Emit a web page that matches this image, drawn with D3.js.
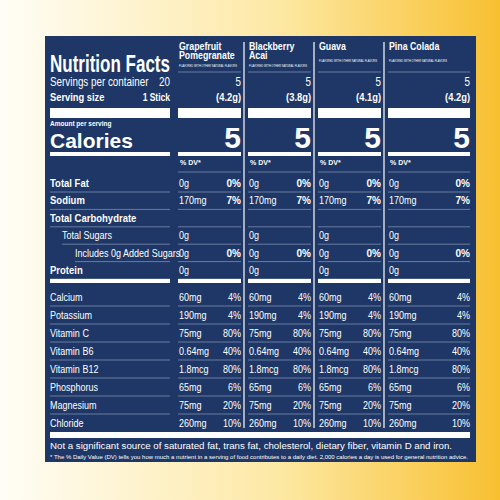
<!DOCTYPE html><html><head><meta charset="utf-8"><script src="https://cdn.jsdelivr.net/npm/d3@7"></script>
<style>body{margin:0}svg{display:block}</style></head><body><script>
const flavors=[["Grapefruit","Pomegranate"],["Blackberry","Acai"],["Guava"],["Pina Colada"]];
const servings=["5","5","5","5"];
const weights=["(4.2g)","(3.8g)","(4.1g)","(4.2g)"];
const calories=["5","5","5","5"];
const nutrients=["Total Fat","Sodium","Total Carbohydrate","Total Sugars","Includes 0g Added Sugars","Protein"];
const nutAmt=["0g","170mg","","0g","0g","0g"];
const nutDV=["0%","7%","","","0%",""];
const minerals=["Calcium","Potassium","Vitamin C","Vitamin B6","Vitamin B12","Phosphorus","Magnesium","Chloride"];
const minAmt=["60mg","190mg","75mg","0.64mg","1.8mcg","65mg","75mg","260mg"];
const minDV=["4%","4%","80%","40%","80%","6%","20%","10%"];
const W=500,H=500,navy="#1e3766",F="'Liberation Sans',Arial,sans-serif";
const svg=d3.select("body").append("svg").attr("width",W).attr("height",H);
const g0=svg.append("defs").append("linearGradient").attr("id","bg").attr("x1","0").attr("x2","1");
g0.append("stop").attr("offset","0").attr("stop-color","#fffdf6");
g0.append("stop").attr("offset","0.55").attr("stop-color","#fde9a6");
g0.append("stop").attr("offset","1").attr("stop-color","#f8c030");
svg.append("rect").attr("width",W).attr("height",H).attr("fill","url(#bg)");
svg.append("rect").attr("x",45).attr("y",36).attr("width",431).attr("height",426).attr("fill",navy);
const xs=d3.scaleLinear().domain([0,1]).range([178,248]);
const colW=i=>i==3?82:63;
const t=(s,xx,yy,o={})=>{const e=svg.append("text").attr("x",xx).attr("y",yy).text(s).attr("fill","#fff")
 .attr("font-family",F).attr("font-size",o.s||11).attr("font-weight",o.b?"bold":"normal").attr("text-anchor",o.a||"start");
 const c=o.c||(o.b?1:0.82);
 if(o.len){e.attr("textLength",o.len).attr("lengthAdjust","spacingAndGlyphs");}
 else if(c!=1)e.attr("transform",`translate(${xx},0) scale(${c},1) translate(${-xx},0)`);
 return e;};
const wbar=(x1,x2,y,h)=>svg.append("rect").attr("x",x1).attr("y",y).attr("width",x2-x1).attr("height",h).attr("fill","#fff");
const hl=(x1,x2,y)=>svg.append("line").attr("x1",x1).attr("x2",x2).attr("y1",y).attr("y2",y).attr("stroke","#8d9bb8").attr("stroke-width",0.7);
const L1=50,L2=170;
[1,2,3].forEach(i=>svg.append("line").attr("x1",xs(i)-4).attr("x2",xs(i)-4).attr("y1",42).attr("y2",428).attr("stroke","#fff").attr("stroke-width",1.2));
t("Nutrition Facts",L1,72,{s:24,b:true,len:120});
t("Servings per container",L1,86,{s:12});t("20",L2,86,{s:12,a:"end"});
t("Serving size",L1,101,{s:11,b:true,c:0.85});t("1 Stick",L2,101,{s:10,b:true,a:"end",c:0.85});
wbar(L1,L2,108,10);t("Amount per serving",L1,126,{s:6.5,b:true});
t("Calories",L1,148,{s:21,b:true});wbar(L1,L2,152,4);
const yr=d3.scalePoint().domain(nutrients).range([183,270]);
nutrients.forEach((n,i)=>{const sub=i==3||i==4;const ind=i==3?12:i==4?25:0;
 t(n,L1+ind,yr(n)+4,{s:sub?11:10,b:!sub,c:sub?0.82:0.95});hl(L1+ind,L2,yr(n)+9);});
wbar(L1,L2,279,4);
const ym=d3.scalePoint().domain(minerals).range([297,423]);
minerals.forEach((n,i)=>{t(n,L1,ym(n)+4,{s:11});if(i<7)hl(L1,L2,ym(n)+9);});
flavors.forEach((f,i)=>{const x0=xs(i),x1=x0+colW(i);
 f.forEach((l,k)=>t(l,x0+1,50+k*9,{s:11,b:true,c:0.8}));
 t("FLAVORED WITH OTHER NATURAL FLAVORS",x0+1,50+f.length*9+(f.length==1?3:-1),{s:3.6,len:58});
 hl(x0,x1,72);
 t(servings[i],x1,86,{s:12,a:"end"});t(weights[i],x1,101,{s:11,b:true,a:"end",c:0.85});
 wbar(x0,x1,108,10);t(calories[i],x1,148,{s:30,b:true,a:"end"});wbar(x0,x1,152,4);
 t("% DV*",x0+2,165,{s:7,b:true});hl(x0,x1,172);
 nutrients.forEach((n,j)=>{t(nutAmt[j],x0+1,yr(n)+4,{s:11});t(nutDV[j],x1,yr(n)+4,{s:10,b:true,a:"end"});hl(x0,x1,yr(n)+9);});
 wbar(x0,x1,279,4);
 minerals.forEach((n,j)=>{t(minAmt[j],x0+1,ym(n)+4,{s:11});t(minDV[j],x1,ym(n)+4,{s:11,a:"end"});if(j<7)hl(x0,x1,ym(n)+9);});
});
wbar(L1,470,432,6);
t("Not a significant source of saturated fat, trans fat, cholesterol, dietary fiber, vitamin D and iron.",L1,449,{s:9.6,c:1,len:402});
t("* The % Daily Value (DV) tells you how much a nutrient in a serving of food contributes to a daily diet. 2,000 calories a day is used for general nutrition advice.",L1,459,{s:5.6,len:418});
</script></body></html>
